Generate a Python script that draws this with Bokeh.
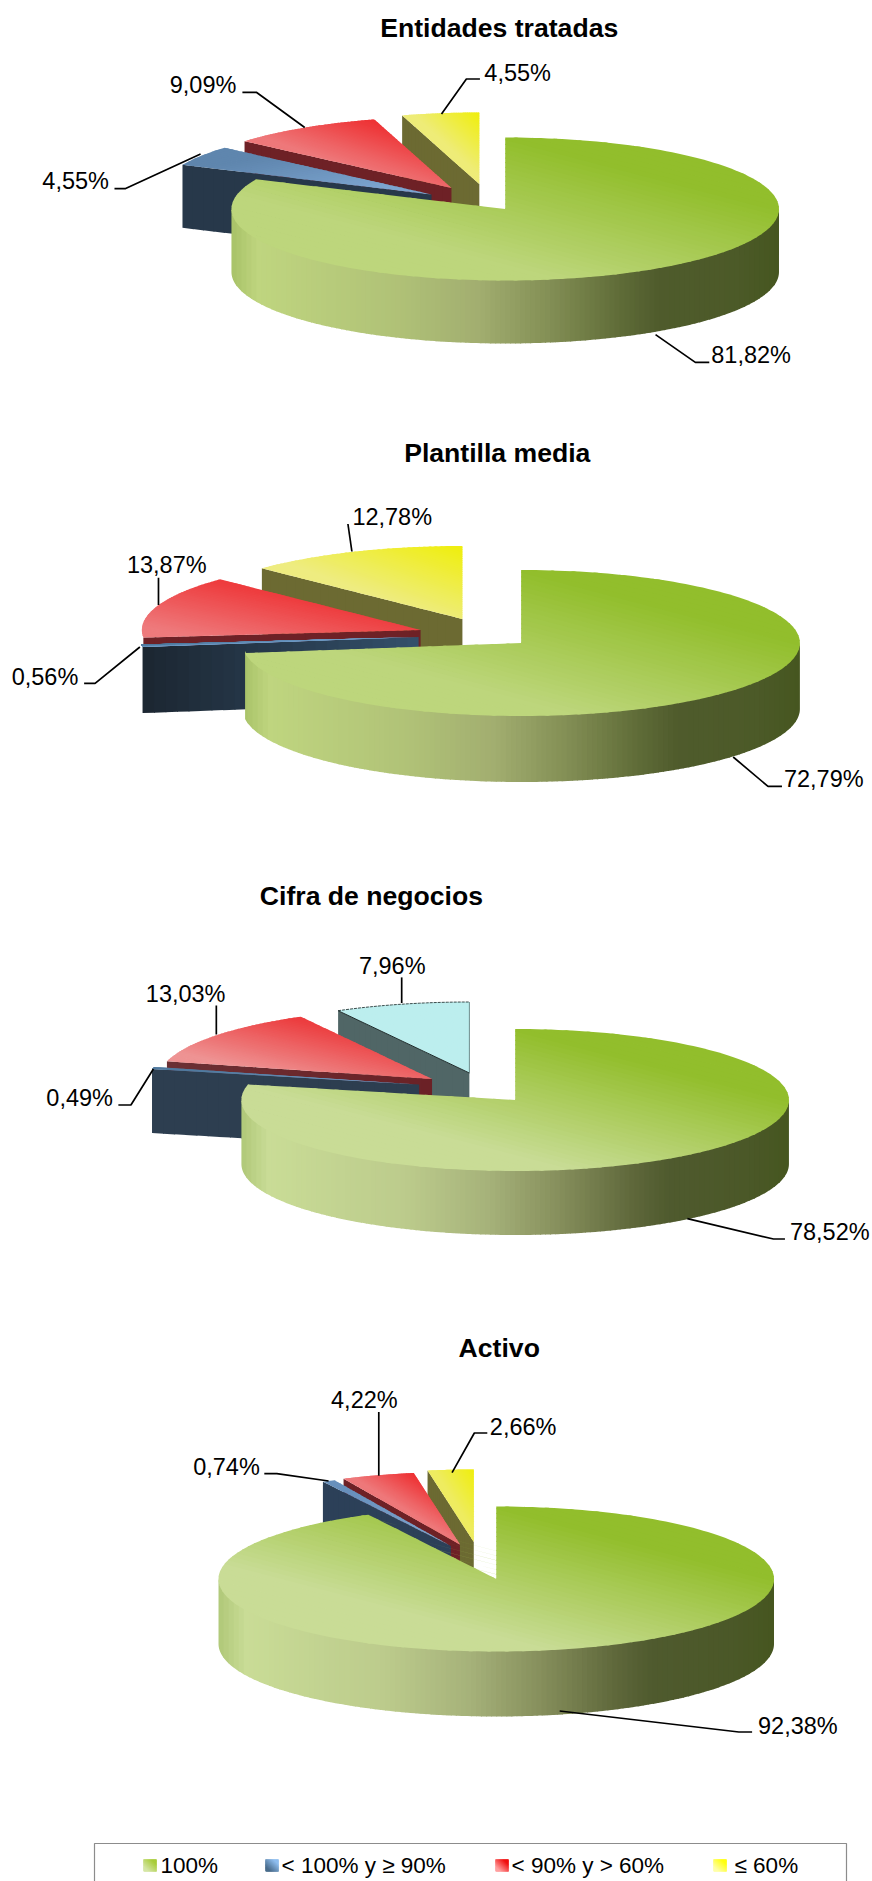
import math
import numpy as np
from bokeh.plotting import figure
from bokeh.models import Range1d, ColumnDataSource
from bokeh.core.properties import value
from bokeh.embed import file_html
from bokeh.resources import INLINE

# ---------- data ----------
chart_titles = ["Entidades tratadas", "Plantilla media", "Cifra de negocios", "Activo"]
legend_labels = ["100%", "< 100% y ≥ 90%", "< 90% y > 60%", "≤ 60%"]
values_entidades = [81.82, 4.55, 9.09, 4.55]
values_plantilla = [72.79, 0.56, 13.87, 12.78]
values_cifra = [78.52, 0.49, 13.03, 7.96]
values_activo = [92.38, 0.74, 4.22, 2.66]
chart_values = [values_entidades, values_plantilla, values_cifra, values_activo]

# ---------- layout (pixels of the page) ----------
FONT = "Liberation Sans"
KX = 0.9955   # horizontal correction of the measured positions
DY = -1.5     # vertical correction of the measured positions
geom = [
    dict(cx=507, cy=210, rx=275, ry=71.5, d=63, title=(501, 28.5),
         apex=[(507, 210), (433, 195.5), (453, 189), (481, 185)]),
    dict(cx=523, cy=644, rx=280, ry=73, d=66, title=(499, 453.5),
         apex=[(523, 644), (420, 638), (422, 631), (464, 620)]),
    dict(cx=517, cy=1101, rx=275, ry=71, d=64, title=(372.6, 896),
         apex=[(517, 1101), (420.5, 1085.6), (433.5, 1080), (471, 1074)]),
    dict(cx=498, cy=1580, rx=279, ry=72.5, d=65, title=(501, 1348),
         apex=[(498, 1580), (452.4, 1547), (461.5, 1545.5), (475.4, 1543)]),
]
label_pos = [
    [(754, 354.5), (75.5, 180), (203.5, 84.5), (519.5, 72)],
    [(827, 778), (44.7, 676), (167, 564.5), (393.5, 516.5)],
    [(833, 1231), (79.5, 1097), (186, 993.5), (393.5, 965)],
    [(801, 1725.5), (227, 1466.5), (365.5, 1399.5), (525, 1426.5)],
]
leader_pos = [
    [[(712, 363.4), (698, 363.4), (658, 335.6)], [(114.5, 189.6), (125.7, 189.6), (201, 155)],
     [(243, 93.3), (257, 93.3), (305.6, 128.5)], [(481.6, 80), (468, 80), (443, 115)]],
    [[(785, 787.4), (771, 787.4), (736, 758)], [(84, 684.4), (95, 684.4), (140, 648)],
     [(158.7, 578.7), (158.7, 606)], [(349, 525), (353, 552.5)]],
    [[(788, 1240), (776.5, 1240), (690, 1219.7)], [(118.4, 1106), (131, 1106), (153.6, 1070)],
     [(216.8, 1006.6), (216.8, 1035.4)], [(403, 978.4), (403, 1004)]],
    [[(755, 1733), (741.7, 1733), (561.7, 1712)], [(265, 1474.7), (277.6, 1474.7), (329.6, 1482)],
     [(380, 1413), (380, 1476.7)], [(489, 1434), (476, 1434), (453.6, 1473.7)]],
]
# per chart colours: (light, dark) of each top face, and (left, right) of each side face
top_cols = [
    [("#BDD67C", "#92BE2C"), ("#7CA4CF", "#5F86AE"), ("#EE787A", "#EE3335"), ("#EEEC78", "#EFEE12")],
    [("#BDD67C", "#92BE2C"), ("#6F9AC4", "#507A9F"), ("#EE7A7C", "#EE3C3E"), ("#EEEC80", "#EFEE12")],
    [("#C9DC96", "#92BE2C"), ("#6F9AC4", "#507A9F"), ("#EE9393", "#EC3D3F"), ("#BCEEEE", "#BCEEEE")],
    [("#C9DC96", "#92BE2C"), ("#7CA4CF", "#6890BC"), ("#EE787A", "#EE3335"), ("#EEEC60", "#EFEE12")],
]
face_cols = [
    [None, ("#27384A", "#27384A"), ("#6E2126", "#6E2126"), ("#6C6A32", "#6C6A32")],
    [None, ("#1B2631", "#34506B"), ("#6E2126", "#6E2126"), ("#6C6A32", "#6C6A32")],
    [None, ("#2D3E50", "#2D3E50"), ("#6B3034", "#6B2126"), ("#506666", "#506666")],
    [None, ("#2C4058", "#2C4058"), ("#6E2126", "#6E2126"), ("#6C6A32", "#6C6A32")],
]
wall_stops = [(0.0, "#A8C268"), (0.05, "#BFD57F"), (0.3, "#B0C277"), (0.45, "#A2AE70"),
              (0.58, "#838F55"), (0.71, "#5F6C38"), (0.78, "#4F5B2C"), (0.92, "#4C5A28"), (1.0, "#465620")]
wall_stops_light = [(0.0, "#B0C878"), (0.05, "#C9DC96"), (0.3, "#BCCB8C"), (0.45, "#A6B27A"),
                    (0.58, "#868F5C"), (0.71, "#60693C"), (0.78, "#4F5A2E"), (0.92, "#4B5828"), (1.0, "#465620")]

# ---------- helpers ----------
def rgb(h):
    return np.array([int(h[i:i + 2], 16) for i in (1, 3, 5)], float)

def mix(a, b, t):
    c = rgb(a) + (rgb(b) - rgb(a)) * min(max(t, 0), 1)
    return "#%02x%02x%02x" % tuple(int(round(v)) for v in c)

def stops_color(stops, t):
    for (t0, c0), (t1, c1) in zip(stops, stops[1:]):
        if t <= t1:
            return mix(c0, c1, (t - t0) / (t1 - t0))
    return stops[-1][1]

def clip(poly, a, b, c):
    """Keep the part of poly where a*x + b*y >= c."""
    out = []
    n = len(poly)
    for i in range(n):
        p, q = poly[i], poly[(i + 1) % n]
        fp = a * p[0] + b * p[1] - c
        fq = a * q[0] + b * q[1] - c
        if fp >= 0:
            out.append(p)
        if (fp >= 0) != (fq >= 0):
            s = fp / (fp - fq)
            out.append((p[0] + (q[0] - p[0]) * s, p[1] + (q[1] - p[1]) * s))
    return out

XS, YS, CS = [], [], []

def emit(poly, col):
    if len(poly) >= 3:
        XS.append([p[0] for p in poly])
        YS.append([p[1] for p in poly])
        CS.append(col)

def banded(poly, ax, ay, t_of_color, tmin, tmax, n):
    """Paint poly in n bands along the scalar ax*x + ay*y."""
    step = (tmax - tmin) / n
    over = 0.9 * math.hypot(ax, ay)
    for k in range(n):
        t0, t1 = tmin + k * step, tmin + (k + 1) * step
        piece = clip(poly, ax, ay, t0)
        if k < n - 1:
            piece = clip(piece, -ax, -ay, -(t1 + over))
        emit(piece, t_of_color((t0 + t1) / 2))

def sector(ax, ay, rx, ry, a0, a1):
    n = max(3, int((a1 - a0) / 1.5))
    pts = [(ax, ay)]
    for a in np.linspace(a0, a1, n + 1):
        r = math.radians(a)
        pts.append((ax + rx * math.sin(r), ay - ry * math.cos(r)))
    return pts

def top_face(poly, light, dark, sx=1, sy=1, t0=0.2, t1=0.8):
    xs = [p[0] for p in poly]; ys = [p[1] for p in poly]
    w, h = max(max(xs) - min(xs), 1), max(max(ys) - min(ys), 1)
    # t grows towards the right (sx=1) and towards the top (sy=1)
    ax, ay = sx / w / 2, -sy / h / 2
    vals = [ax * q[0] + ay * q[1] for q in poly]
    lo, hi = min(vals), max(vals)
    span = hi - lo
    def col(v):
        t = (v - lo) / span
        return mix(light, dark, (t - t0) / (t1 - t0))
    banded(poly, ax, ay, col, lo, hi, 44)

# ---------- figure ----------
p = figure(width=872, height=1881, x_range=Range1d(0, 872), y_range=Range1d(1881, 0),
           output_backend="svg", toolbar_location=None, min_border=0,
           outline_line_color=None, background_fill_color="white", border_fill_color="white")
p.axis.visible = False
p.grid.visible = False

outlines = []
for ci, vals in enumerate(chart_values):
    g = geom[ci]
    rx, ry, d = g["rx"] * KX, g["ry"], g["d"]
    cx, cy = g["cx"] * KX, g["cy"] + DY
    edges = np.cumsum([0] + vals) / sum(vals) * 360.0
    # back slices first, the big one last
    for si in [3, 2, 1, 0]:
        a0, a1 = edges[si], edges[si + 1]
        ax, ay = g["apex"][si][0] * KX, g["apex"][si][1] + DY
        if si != 0:
            r = math.radians(a0)
            ex, ey = ax + rx * math.sin(r), ay - ry * math.cos(r)
            face = [(ax, ay), (ex, ey), (ex, ey + d), (ax, ay + d)]
            c0, c1 = face_cols[ci][si]
            lo, hi = min(ex, ax), max(ex, ax)
            banded(face, 1, 0, lambda v, lo=lo, hi=hi, c0=c0, c1=c1: mix(c0, c1, (v - lo) / max(hi - lo, 1)), lo, hi, 24)
        else:
            aw = np.linspace(90, min(270, a1), 181)
            tr = [(cx + rx * math.sin(math.radians(a)), cy - ry * math.cos(math.radians(a))) for a in aw]
            # the wall runs a little under the top face, so that no seam shows
            wall = [(x, y - 2) for x, y in tr] + [(x, y + d) for x, y in tr[::-1]]
            stops = wall_stops_light if ci >= 2 else wall_stops
            lo, hi = cx - rx, cx + rx
            banded(wall, 1, 0, lambda v, lo=lo, hi=hi, stops=stops: stops_color(stops, (v - lo) / (hi - lo)), lo, hi, 110)
        poly = sector(ax, ay, rx, ry, a0, a1)
        light, dark = top_cols[ci][si]
        if si == 1:
            top_face(poly, light, dark, sx=-1, sy=1)
        elif si == 0:
            top_face(poly, light, dark, t0=0.22, t1=0.85)
        else:
            top_face(poly, light, dark, t0=0.15, t1=0.95)
        if ci == 2 and si == 3:
            outlines.append(poly)

# legend swatches
swatches = [(143, "#D5E6A5", "#A8CC3A"), (265, "#4A6C8C", "#8FBEEF"), (495, "#FFA0A0", "#F01010"), (713, "#FFFFA8", "#FFFF10")]
sw_y0, sw_y1, sw_w = 1859, 1871, 13
for sx0, light, dark in swatches:
    rect = [(sx0, sw_y0), (sx0 + sw_w, sw_y0), (sx0 + sw_w, sw_y1), (sx0, sw_y1)]
    top_face(rect, light, dark)

p.patches(xs="xs", ys="ys", fill_color="c", line_color=None,
          source=ColumnDataSource(dict(xs=XS, ys=YS, c=CS)))

# cyan slice outline
for poly in outlines:
    rim = poly[1:]
    p.line([q[0] for q in rim], [q[1] for q in rim], line_color="#3C4C4C", line_width=1, line_dash="3 1")
    p.line([poly[0][0], poly[1][0]], [poly[0][1], poly[1][1]], line_color="#1E2A2A", line_width=1)
    p.line([poly[0][0], poly[-1][0]], [poly[0][1], poly[-1][1]], line_color="#6E8C8C", line_width=1)

# leader lines
for lines in leader_pos:
    for seg in lines:
        p.line([q[0] * KX for q in seg], [q[1] + DY for q in seg], line_color="black", line_width=1.7)

# titles and labels
def fmt(v):
    return f"{v:.2f}%".replace(".", ",")

tx, ty, tt = [], [], []
for g, t in zip(geom, chart_titles):
    tx.append(g["title"][0] * KX); ty.append(g["title"][1] - 1); tt.append(t)
p.text(tx, ty, text=tt, text_font=value(FONT), text_font_style="bold", text_font_size="26.6px",
       text_align="center", text_baseline="middle", text_color="black")

lx, ly, lt = [], [], []
for vals, poss in zip(chart_values, label_pos):
    for v, pos in zip(vals, poss):
        lx.append(pos[0] * KX); ly.append(pos[1]); lt.append(fmt(v))
p.text(lx, ly, text=lt, text_font=value(FONT), text_font_size="23.5px",
       text_align="center", text_baseline="middle", text_color="black")

# legend box (open at the bottom of the page)
box_x0, box_x1, box_y0 = 94, 846, 1843
p.line([box_x0, box_x0, box_x1, box_x1], [1890, box_y0, box_y0, 1890], line_color="#8C8C8C", line_width=1.2)
leg_x = [160, 281, 511, 734]
p.text(leg_x, [1865] * 4, text=legend_labels, text_font=value(FONT), text_font_size="22.5px",
       text_align="left", text_baseline="middle", text_color="black")

open("out.html", "w").write(file_html(p, INLINE))
